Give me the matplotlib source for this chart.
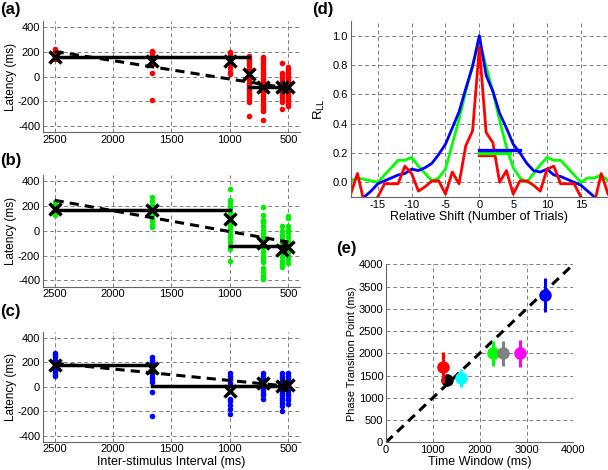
import matplotlib
matplotlib.use('Agg')
import matplotlib.pyplot as plt
import numpy as np

plt.rcParams['font.family'] = ['Liberation Sans', 'DejaVu Sans']
plt.rcParams['axes.unicode_minus'] = False

# ---- panel (a), red subject
red_isi = [2500, 1667, 1000, 833, 714, 556, 500]
red_lat = [
    [220, 210, 200, 170, 150, 140],
    [210, 200, 180, 160, 140, 120, 100, 30, -190],
    [200, 180, 160, 140, 120, 100, 70, 40, 20],
    [170, 150, 130, 110, 90, 70, 50, 30, 10, -10, -30, -50, -70, -90, -110,
     -130, -150, -170, -190, -210, -320],
    [160, 140, 120, 100, 80, 60, 40, 20, 0, -20, -40, -60, -80, -100, -120,
     -140, -160, -180, -200, -220, -240, -260, -280, -355],
    [110, 30, 10, -10, -30, -50, -70, -90, -110, -130, -150, -170, -190, -210, -260],
    [80, 60, 40, 20, 0, -20, -40, -60, -80, -100, -120, -140, -160, -180, -200, -220, -240],
]
red_mean = [162, 128, 122, 19, -81, -89, -81]
red_step_x = [[2500, 833], [833, 500]]
red_step_y = [155, -85]
red_fit = [203, -95]

# ---- panel (b), green subject
grn_isi = [2500, 1667, 1000, 714, 556, 500]
grn_lat = [
    [230, 210, 180, 150, 130],
    [270, 240, 210, 190, 170, 150, 130, 100, 80, 50, 30],
    [340, 250, 230, 200, 180, 150, 120, 100, 80, 50, 20, 0, -30, -60, -90, -120, -150, -240],
    [190, 130, 90, 70, 40, 10, -20, -50, -80, -110, -140, -170, -200, -230, -250,
     -300, -330, -360, -390],
    [40, 0, -30, -60, -90, -120, -150, -180, -210, -240, -270, -290],
    [120, 100, 40, 10, -20, -50, -80, -110, -140, -170, -200, -230, -260],
]
grn_mean = [179, 171, 99, -98, -158, -131]
grn_step_x = [[2500, 1000], [1000, 500]]
grn_step_y = [171, -125]
grn_fit = [246, -90]

# ---- panel (c), blue subject
blu_isi = [2500, 1667, 1000, 714, 556, 500]
blu_lat = [
    [280, 260, 240, 220, 200, 180, 160, 140, 120, 100, 90],
    [240, 220, 200, 180, 160, 140, 120, 100, 80, 60, 40, -40, -240],
    [110, 90, 60, 30, 10, -100, -120, -150, -180, -220],
    [110, 90, 70, 50, 30, 10, -10, -30, -50, -70, -100],
    [110, 90, 70, 50, 30, 10, -10, -30, -50, -70, -90, -110, -130, -160, -195],
    [110, 90, 70, 50, 30, 10, -10, -30, -50, -70, -90, -110, -145],
]
blu_mean = [179, 152, -31, 31, 4, 18]
blu_step_x = [[2500, 1667], [1667, 500]]
blu_step_y = [179, 8]
blu_fit = [192, 4]

# ---- panel (d), autocorrelation
shift = list(range(-19, 20))
r_red = [-0.08, 0.06, -0.14, -0.14, -0.10, -0.01, -0.01, -0.01, 0.11, 0.06, -0.06, -0.03,
         0.01, 0.01, -0.08, 0.07, -0.01, 0.25, 0.35, 0.92, 0.34, 0.27, 0.0, 0.08, -0.08,
         0.01, 0.01, -0.02, -0.06, 0.09, 0.11, -0.01, -0.01, -0.01, -0.10, -0.14, -0.14,
         0.06, -0.08]
r_grn = [0.01, 0.03, 0.02, 0.01, 0.0, 0.05, 0.10, 0.15, 0.15, 0.17, 0.11, 0.06, 0.01,
         0.03, 0.09, 0.26, 0.43, 0.62, 0.80, 0.96, 0.79, 0.62, 0.42, 0.24, 0.10, 0.03,
         0.0, 0.06, 0.12, 0.17, 0.15, 0.15, 0.10, 0.05, 0.0, 0.03, 0.03, 0.05, 0.01]
shift_blu = list(range(-17, 18))
r_blu = [-0.10, -0.06, -0.01, 0.01, 0.03, 0.05, 0.06, 0.09, 0.08, 0.10, 0.13, 0.19, 0.26,
         0.37, 0.48, 0.64, 0.79, 1.0, 0.73, 0.62, 0.47, 0.37, 0.26, 0.20, 0.13, 0.08, 0.07,
         0.09, 0.05, 0.04, 0.02, 0.0, -0.02, -0.06, -0.10]
width_end = [2, 4.5, 6]
width_level = [0.183, 0.203, 0.222]

# ---- panel (e), phase transition point vs time window
tw = [1210, 1295, 1594, 2292, 2491, 2861, 3402]
ptp = [1685, 1400, 1438, 2000, 2000, 2000, 3311]
ptp_err = [355, 80, 206, 281, 274, 300, 386]
ptp_col = ['#ff0000', '#000000', '#00ffff', '#00ff00', '#808080', '#ff00ff', '#0000ff']

fig = plt.figure(figsize=(6.08, 4.70), dpi=100)

GRID = dict(color='#7f7f7f', linestyle=(0, (4, 3)), linewidth=0.7)
TICK_FS = 8
LAB_FS = 8.5


def style_axes(ax):
    ax.grid(True, **GRID)
    ax.set_axisbelow(True)
    for s in ['top', 'right']:
        ax.spines[s].set_visible(False)
    for s in ['left', 'bottom']:
        ax.spines[s].set_color('#666666')
        ax.spines[s].set_linewidth(0.8)
    ax.tick_params(direction='in', length=0, labelsize=TICK_FS, pad=2)


def latency_panel(rect, isi, lat, means, step_x, step_y, fit, color, xlabel=None):
    ax = fig.add_axes(rect)
    style_axes(ax)
    for x, vals in zip(isi, lat):
        ax.plot([x] * len(vals), vals, 'o', color=color, ms=4.0, mec='none', zorder=2)
    for xs, y in zip(step_x, step_y):
        ax.plot(xs, [y, y], '-', color='k', lw=2.5, zorder=3)
    ax.plot([isi[0], isi[-1]], fit, color='k', lw=2.2, linestyle=(0, (3, 2)), zorder=3)
    ax.plot(isi, means, 'x', color='k', ms=8, mew=2.5, zorder=4)
    ax.set_xlim(2600, 400)
    ax.set_ylim(-450, 450)
    ax.set_xticks([2500, 2000, 1500, 1000, 500])
    ax.set_yticks([-400, -200, 0, 200, 400])
    ax.set_ylabel('Latency (ms)', fontsize=LAB_FS, labelpad=1)
    if xlabel:
        ax.set_xlabel(xlabel, fontsize=LAB_FS + 0.5, labelpad=1)
    return ax


latency_panel([0.0707, 0.7191, 0.4227, 0.2362], red_isi, red_lat, red_mean,
              red_step_x, red_step_y, red_fit, '#ff0000')
latency_panel([0.0707, 0.3900, 0.4227, 0.2377], grn_isi, grn_lat, grn_mean,
              grn_step_x, grn_step_y, grn_fit, '#00ee00')
latency_panel([0.0707, 0.0602, 0.4227, 0.2340], blu_isi, blu_lat, blu_mean,
              blu_step_x, blu_step_y, blu_fit, '#0000ff',
              xlabel='Inter-stimulus Interval (ms)')

# (d)
axd = fig.add_axes([0.5768, 0.5809, 0.4232, 0.3745])
style_axes(axd)
axd.plot(shift, r_grn, color='#00ff00', lw=2.0)
axd.plot(shift_blu, r_blu, color='#0000ff', lw=2.0)
axd.plot(shift, r_red, color='#ff0000', lw=2.0)
for xe, yl, c in zip(width_end, width_level, ['#ff0000', '#00ff00', '#0000ff']):
    axd.plot([0, xe], [yl, yl], color=c, lw=2.4)
axd.set_xlim(-19, 19)
axd.set_ylim(-0.1, 1.1)
axd.set_xticks([-15, -10, -5, 0, 5, 10, 15])
axd.set_yticks([0.0, 0.2, 0.4, 0.6, 0.8, 1.0])
axd.set_yticklabels(['%.1f' % v for v in [0.0, 0.2, 0.4, 0.6, 0.8, 1.0]])
axd.set_xlabel('Relative Shift (Number of Trials)', fontsize=LAB_FS + 0.5, labelpad=1)
axd.set_ylabel(r'R$_{\mathrm{LL}}$', fontsize=LAB_FS + 1, labelpad=4)

# (e)
axe = fig.add_axes([0.6349, 0.0589, 0.3081, 0.3787])
style_axes(axe)
axe.plot([0, 4000], [0, 4000], color='k', lw=2.2, linestyle=(0, (3, 2)), zorder=2)
for x, y, e, c in zip(tw, ptp, ptp_err, ptp_col):
    z = 1.5 if c == '#000000' else 3
    axe.errorbar(x, y, yerr=e, fmt='o', color=c, ms=8, mec=c, elinewidth=2.2,
                 capsize=0, zorder=z)
axe.set_xlim(0, 4000)
axe.set_ylim(0, 4000)
axe.set_xticks([0, 1000, 2000, 3000, 4000])
axe.set_yticks(list(range(0, 4001, 500)))
axe.set_xlabel('Time Window (ms)', fontsize=LAB_FS + 0.5, labelpad=1)
axe.set_ylabel('Phase Transition Point (ms)', fontsize=7.8, labelpad=1)

# panel letters
for lab, x, y in [('(a)', 0.0, 0.995), ('(b)', 0.0, 0.675), ('(c)', 0.0, 0.353),
                  ('(d)', 0.513, 0.995), ('(e)', 0.553, 0.487)]:
    fig.text(x, y, lab, fontsize=12, fontweight='bold', va='top', ha='left')

fig.savefig('out.png', dpi=100)
